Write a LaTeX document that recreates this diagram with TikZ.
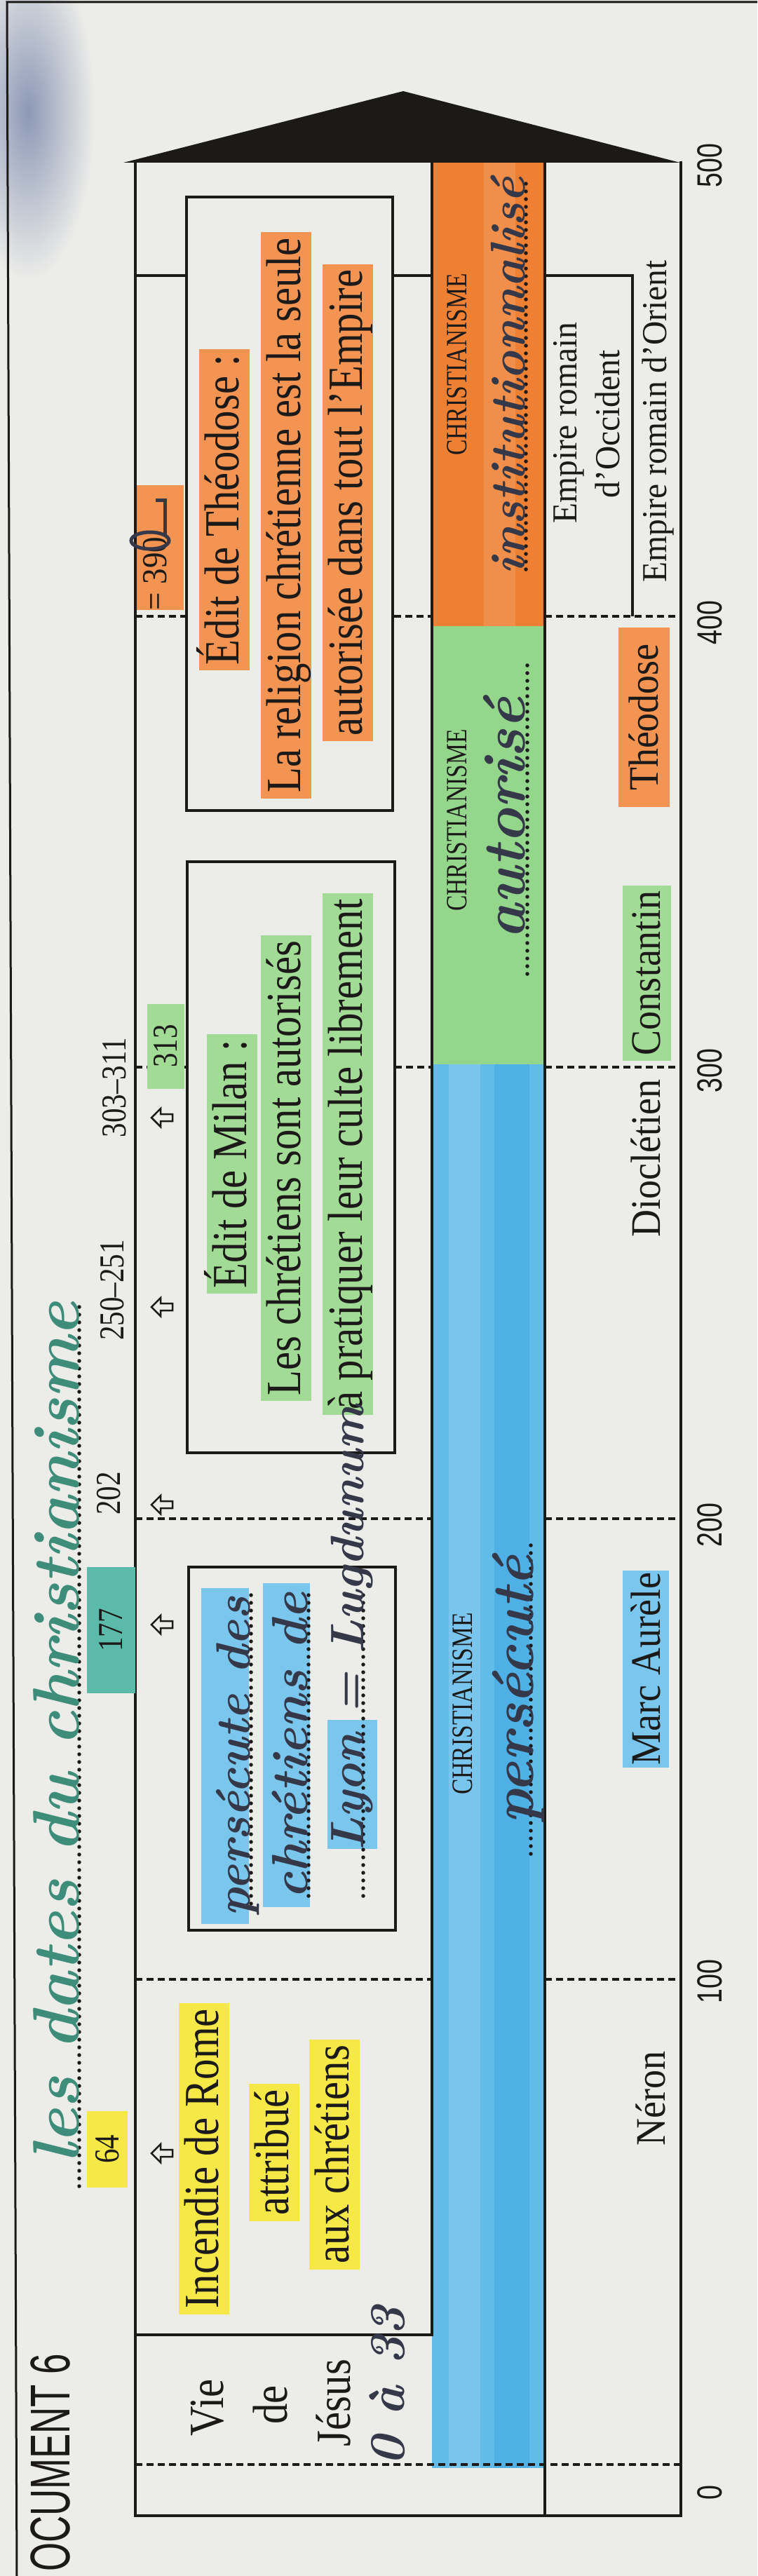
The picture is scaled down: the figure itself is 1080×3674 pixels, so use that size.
\documentclass[tikz,border=0pt]{standalone}
\usepackage{fontspec}
\usepackage{graphicx}
\newfontfamily\prfont{Liberation Serif}
\newfontfamily\sansfont{Liberation Sans}
\definecolor{bg}{RGB}{236,236,233}
\definecolor{smudge}{RGB}{140,152,182}
\definecolor{ink}{RGB}{28,25,25}
\definecolor{pen}{RGB}{52,56,72}
\definecolor{titleink}{RGB}{62,140,122}
\definecolor{orgband}{RGB}{238,128,52}
\definecolor{orghl}{RGB}{243,148,82}
\definecolor{grnband}{RGB}{148,214,140}
\definecolor{grnhl}{RGB}{162,219,150}
\definecolor{bluband}{RGB}{98,188,234}
\definecolor{blustripe}{RGB}{70,172,228}
\definecolor{bluhl}{RGB}{122,198,236}
\definecolor{yelhl}{RGB}{246,232,70}
\definecolor{tealhl}{RGB}{92,186,170}
\newcommand{\ptx}[3]{{\prfont\fontsize{#1}{#1}\selectfont\scalebox{#2}[1]{#3}}}
\newcommand{\stx}[3]{{\sansfont\fontsize{#1}{#1}\selectfont\scalebox{#2}[1]{#3}}}
\newcommand{\hw}[2]{\resizebox{#1pt}{!}{\bfseries\itshape #2}}
\begin{document}
\begin{tikzpicture}[x=1pt,y=-1pt,
  txt/.style={rotate=90, inner sep=0pt, text=ink},
  hlt/.style={rotate=90, inner xsep=8pt, inner ysep=2pt, text height=54pt, text depth=14pt, text=ink},
  tag/.style={rotate=90, inner sep=0pt, text=ink},
  tl/.style={line width=4pt, draw=ink},
  dl/.style={line width=4pt, draw=ink, dash pattern=on 10pt off 6pt},
  dots/.style={line width=5.5pt, line cap=round, dash pattern=on 0pt off 11pt, draw=ink},
  hand/.style={rotate=90, inner sep=0pt, anchor=base, text=pen},
  larrow/.pic={\draw[line width=2.5pt, draw=ink, line join=miter] (-16,0) -- (-3,-13) -- (-3,-5) -- (14,-5) -- (14,5) -- (-3,5) -- (-3,13) -- cycle;}
]
\useasboundingbox (0,0) rectangle (1080,3674);
\fill[bg] (0,0) rectangle (1080,3674);
\shade[inner color=smudge, outer color=bg] (40,160) ellipse (95 and 240);

% page frame
\draw[line width=3pt, ink] (24,3674) -- (10,3) -- (1080,3);

% christianisme band
\fill[orgband] (616,230) rectangle (777,893);
\fill[white, opacity=0.12] (690,230) rectangle (735,893);
\fill[grnband] (616,893) rectangle (777,1518);
\fill[bluband] (616,1518) rectangle (777,3520);
\fill[blustripe, opacity=0.7] (705,1518) rectangle (755,3520);
\fill[white, opacity=0.15] (640,1518) rectangle (685,3520);

% table lines
\draw[tl] (193,230) -- (193,3588) -- (971,3588) -- (971,230);
\draw[tl] (616,230) -- (616,3330) -- (193,3330);
\draw[tl] (777,230) -- (777,3588);
\draw[tl] (193,393) -- (266,393);
\draw[tl] (562,393) -- (616,393);
\draw[tl] (777,393) -- (902,393) -- (902,879);
\fill[ink] (176,232) -- (575,130) -- (970,232) -- cycle;

% century lines
\draw[dl] (193,879) -- (266,879);
\draw[dl] (562,879) -- (616,879);
\draw[dl] (777,879) -- (971,879);
\draw[dl] (193,1522) -- (267,1522);
\draw[dl] (563,1522) -- (616,1522);
\draw[dl] (777,1522) -- (971,1522);
\draw[dl] (193,2166) -- (616,2166);
\draw[dl] (777,2166) -- (971,2166);
\draw[dl] (193,2823) -- (616,2823);
\draw[dl] (777,2823) -- (971,2823);
\draw[dl] (193,3515) -- (971,3515);

% event boxes
\draw[tl] (266,281) rectangle (560,1156);
\draw[tl] (267,1229) rectangle (563,2072);
\draw[tl] (269,2235) rectangle (564,2753);

% arrows
\pic at (232,3071) {larrow};
\pic at (232,2317) {larrow};
\pic at (232,2146) {larrow};
\pic at (232,1864) {larrow};
\pic at (232,1594) {larrow};

% dates
\node[tag, fill=yelhl, minimum width=109pt, minimum height=58pt] (d64) at (153,3065) {\ptx{50}{0.82}{64}};
\node[tag, fill=tealhl, minimum width=180pt, minimum height=69pt] (d177) at (158,2325) {\ptx{50}{0.82}{177}};
\node[txt] (d202) at (155,2130) {\ptx{50}{0.82}{202}};
\node[txt] (d250) at (160,1840) {\ptx{50}{0.82}{250–251}};
\node[txt] (d303) at (163,1551) {\ptx{50}{0.82}{303–311}};
\node[tag, fill=grnhl, minimum width=121pt, minimum height=53pt] (d313) at (236,1492) {\ptx{50}{0.82}{313}};
\node[tag, fill=orghl, minimum width=178pt, minimum height=67pt] (d390) at (228,781) {};
\node[txt] (d390t) at (221,818) {\ptx{50}{0.9}{= 390}};
\draw[pen, line width=5pt] (235,762) -- (235,713) -- (222,713);
\draw[pen, line width=5pt] (214,771) ellipse (27 and 12);

% Theodose box
\node[hlt, fill=orghl] (t1) at (320,727) {\ptx{70}{0.84}{Édit de Théodose :}};
\node[hlt, fill=orghl] (t2) at (408,735) {\ptx{70}{0.84}{La religion chrétienne est la seule}};
\node[hlt, fill=orghl] (t3) at (496,717) {\ptx{70}{0.84}{autorisée dans tout l’Empire}};

% Milan box
\node[hlt, fill=grnhl] (m1) at (331,1660) {\ptx{70}{0.84}{Édit de Milan :}};
\node[hlt, fill=grnhl] (m2) at (408,1666) {\ptx{70}{0.84}{Les chrétiens sont autorisés}};
\node[hlt, fill=grnhl] (m3) at (496,1646) {\ptx{70}{0.84}{à pratiquer leur culte librement}};

% Incendie
\node[hlt, fill=yelhl] (i1) at (291,3079) {\ptx{70}{0.84}{Incendie de Rome}};
\node[hlt, fill=yelhl] (i2) at (391,3070) {\ptx{70}{0.84}{attribué}};
\node[hlt, fill=yelhl] (i3) at (477,3073) {\ptx{70}{0.84}{aux chrétiens}};

% Vie de Jesus
\node[txt] (v1) at (296,3434) {\ptx{70}{0.84}{Vie}};
\node[txt] (v2) at (386,3430) {\ptx{70}{0.84}{de}};
\node[txt] (v3) at (475,3427) {\ptx{70}{0.84}{Jésus}};

% Christianisme labels
\node[txt] (c1) at (652,520) {\ptx{42}{0.8}{CHRISTIANISME}};
\node[txt] (c2) at (652,1170) {\ptx{42}{0.8}{CHRISTIANISME}};
\node[txt] (c3) at (660,2430) {\ptx{42}{0.8}{CHRISTIANISME}};

% empires
\node[txt] (e1) at (811,603) {\ptx{50}{0.95}{Empire romain}};
\node[txt] (e2) at (866,605) {\ptx{50}{0.95}{d’Occident}};
\node[txt] (e3) at (938,601) {\ptx{50}{0.95}{Empire romain d’Orient}};

% rulers
\node[tag, fill=orghl, minimum width=256pt, minimum height=73pt] (r1) at (918,1023) {\ptx{60}{0.9}{Théodose}};
\node[tag, fill=grnhl, minimum width=250pt, minimum height=69pt] (r2) at (922,1388) {\ptx{60}{0.9}{Constantin}};
\node[txt] (r3) at (921,1652) {\ptx{60}{0.9}{Dioclétien}};
\node[tag, fill=bluhl, minimum width=281pt, minimum height=66pt] (r4) at (921,2380) {\ptx{60}{0.9}{Marc Aurèle}};
\node[txt] (r5) at (928,2993) {\ptx{60}{0.9}{Néron}};

% axis labels
\node[txt] (a500) at (1012,236) {\stx{50}{0.75}{500}};
\node[txt] (a400) at (1012,888) {\stx{50}{0.75}{400}};
\node[txt] (a300) at (1012,1527) {\stx{50}{0.75}{300}};
\node[txt] (a200) at (1012,2175) {\stx{50}{0.75}{200}};
\node[txt] (a100) at (1012,2826) {\stx{50}{0.75}{100}};
\node[txt] (a0) at (1012,3555) {\stx{50}{0.75}{0}};

% document title
\node[txt, anchor=west] (doc) at (72,3668) {\stx{80}{0.66}{OCUMENT 6}};

% dotted answer lines
\draw[dots] (113,1864) -- (113,3120);
\fill[bluhl] (287,2265) rectangle (355,2744);
\fill[bluhl] (375,2258) rectangle (442,2720);
\fill[bluhl] (467,2453) rectangle (538,2637);
\draw[dots] (358,2275) -- (358,2720);
\draw[dots] (440,2275) -- (440,2715);
\draw[dots] (518,2275) -- (518,2715);
\draw[dots] (750,262) -- (750,823);
\draw[dots] (752,949) -- (752,1393);
\draw[dots] (757,2204) -- (757,2652);

% handwriting
\node[hand, text=titleink] (title) at (112,2471) {\hw{1229}{les dates du christianisme}};
\node[hand] (ly1) at (356,2505) {\hw{456}{persécute des}};
\node[hand] (ly2) at (438,2490) {\hw{437}{chrétiens de}};
\node[hand] (ly3) at (518,2322) {\hw{635}{Lyon = Lugdunum}};
\node[hand] (hw1) at (748,536) {\hw{566}{institutionnalisé}};
\node[hand] (hw2) at (748,1167) {\hw{344}{autorisé}};
\node[hand] (hw3) at (760,2410) {\hw{383}{persécuté}};
\node[hand] (jes) at (576,3403) {\hw{227}{0 à 33}};
\end{tikzpicture}
\end{document}
